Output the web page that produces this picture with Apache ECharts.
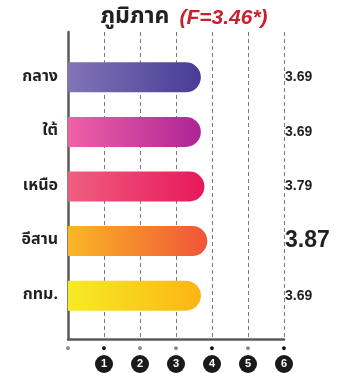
<!DOCTYPE html>
<html>
<head>
<meta charset="utf-8">
<script src="https://cdn.jsdelivr.net/npm/echarts@6/dist/echarts.min.js"></script>
<style>
  html, body { margin: 0; padding: 0; background: #fff; }
  #chart { width: 339px; height: 373px; }
</style>
</head>
<body>
<div id="chart"></div>
<script>
// Mean score by region
const regions = ['กลาง', 'ใต้', 'เหนือ', 'อีสาน', 'กทม.'];
const scores = [3.69, 3.69, 3.79, 3.87, 3.69];
const titleMain = 'ภูมิภาค';
const titleStat = '(F=3.46*)';
const xTicks = [0, 1, 2, 3, 4, 5, 6];
// small marker colour under each scale tick
const tickDots = ['#8a8a8a', '#111', '#8a8a8a', '#8a8a8a', '#111', '#8a8a8a', '#111'];

// left → right gradient for each bar
const barGradients = [
  ['#8174b6', '#483c97'],
  ['#f061a7', '#ad2595'],
  ['#ef5f80', '#e8175a'],
  ['#fbb726', '#ef5538'],
  ['#f6eb25', '#fcb515']
];

const FONT = "'Noto Sans Thai', 'Noto Sans', 'Liberation Sans', sans-serif";
const maxScore = Math.max(...scores);

const chart = echarts.init(document.getElementById('chart'), null, { renderer: 'canvas' });

const tickRich = {
  dg: { color: '#8a8a8a', fontSize: 9, lineHeight: 13, align: 'center' },
  dk: { color: '#111', fontSize: 9, lineHeight: 13, align: 'center' },
  c: {
    backgroundColor: '#1a1a1a', color: '#fff', borderRadius: 9,
    width: 18, height: 18, lineHeight: 18, align: 'center',
    fontSize: 11, fontWeight: 'bold', fontFamily: 'Liberation Sans, Arial, sans-serif'
  },
  e: { height: 18, lineHeight: 18 }
};

const option = {
  animation: false,
  backgroundColor: '#fff',
  title: {
    text: '{a|' + titleMain + '}  {b|' + titleStat + '}',
    left: 179,
    textAlign: 'center',
    top: 2,
    textStyle: {
      rich: {
        a: { fontSize: 23, fontWeight: 'bold', color: '#231f20', fontFamily: FONT },
        b: { fontSize: 21, fontWeight: 'bold', fontStyle: 'italic', color: '#c8202f', fontFamily: 'Liberation Sans, Arial, sans-serif' }
      }
    }
  },
  grid: [
    // frame: axis lines and dashed scale lines
    { left: 68, right: 55, top: 32, bottom: 34 },
    // bars
    { left: 68, right: 55, top: 50, bottom: 50 }
  ],
  xAxis: [
    {
      gridIndex: 0, type: 'value', min: 0, max: 6, interval: 1,
      axisLine: { show: true, lineStyle: { color: '#5a5a5a', width: 2.5 } },
      axisTick: { show: false },
      splitLine: { show: true, lineStyle: { color: '#7a7a7a', type: [4, 3], width: 1 } },
      axisLabel: {
        margin: 3,
        formatter: function (v) {
          const i = xTicks.indexOf(v);
          const dot = tickDots[i] === '#111' ? '{dk|●}' : '{dg|●}';
          return dot + '\n' + (v === 0 ? '{e|}' : '{c|' + v + '}');
        },
        rich: tickRich
      }
    },
    {
      gridIndex: 1, type: 'value', min: 0, max: 6, interval: 1, show: false
    }
  ],
  yAxis: [
    {
      gridIndex: 0, type: 'value', min: 0, max: 1,
      axisLine: { show: true, lineStyle: { color: '#5a5a5a', width: 2.5 } },
      axisTick: { show: false }, axisLabel: { show: false }, splitLine: { show: false }
    },
    {
      gridIndex: 1, type: 'category', inverse: true, data: regions,
      axisLine: { show: false }, axisTick: { show: false },
      axisLabel: {
        margin: 10, color: '#231f20', fontSize: 16, fontWeight: 'bold', fontFamily: FONT
      }
    },
    {
      gridIndex: 1, type: 'category', inverse: true, position: 'right',
      data: scores.map(v => v.toFixed(2)),
      axisLine: { show: false }, axisTick: { show: false },
      axisLabel: {
        margin: 1, color: '#231f20',
        fontFamily: 'Liberation Sans, Arial, sans-serif',
        formatter: function (v) {
          return (parseFloat(v) === maxScore ? '{big|' : '{n|') + v + '}';
        },
        rich: {
          n: { fontSize: 14, fontWeight: 'bold', color: '#231f20' },
          big: { fontSize: 23, fontWeight: 'bold', color: '#231f20' }
        }
      }
    }
  ],
  series: [
    {
      type: 'bar',
      xAxisIndex: 1, yAxisIndex: 1,
      barWidth: 30,
      data: scores.map((v, i) => ({
        value: v,
        itemStyle: {
          borderRadius: [0, 15, 15, 0],
          color: new echarts.graphic.LinearGradient(0, 0, 1, 0, [
            { offset: 0, color: barGradients[i][0] },
            { offset: 1, color: barGradients[i][1] }
          ])
        }
      }))
    }
  ]
};

chart.setOption(option);
</script>
</body>
</html>
